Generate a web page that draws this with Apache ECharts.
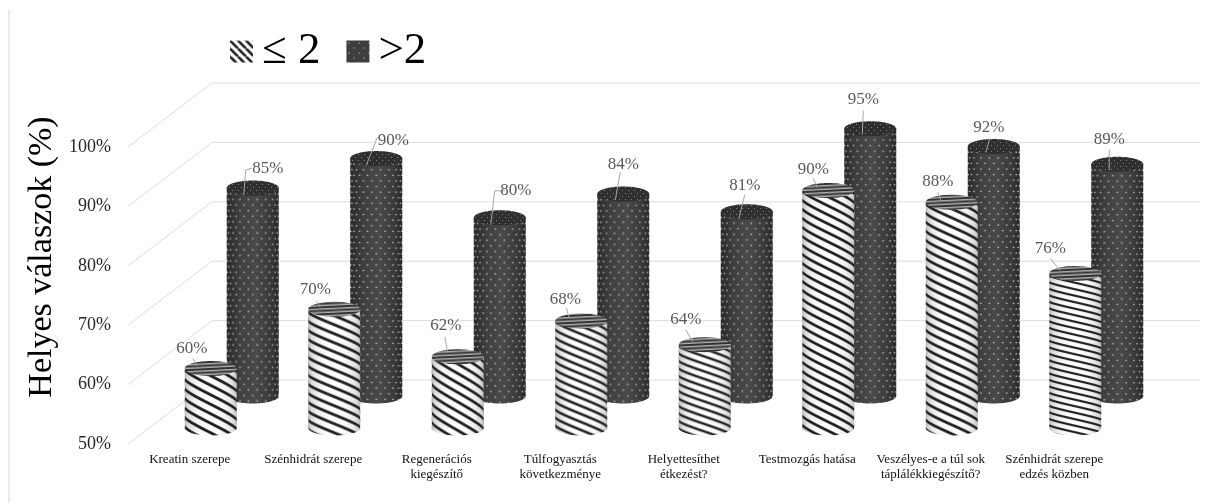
<!DOCTYPE html>
<html lang="hu">
<head>
<meta charset="utf-8">
<title>Helyes válaszok</title>
<style>
  html, body { margin: 0; padding: 0; background: #fff; }
  #chart { width: 1208px; height: 503px; }
</style>
<script src="https://cdn.jsdelivr.net/npm/echarts@6/dist/echarts.min.js"></script>
</head>
<body>
<div id="chart"></div>
<script>
// Chart data
const categories = [
  'Kreatin szerepe',
  'Szénhidrát szerepe',
  'Regenerációs\nkiegészítő',
  'Túlfogyasztás\nkövetkezménye',
  'Helyettesíthet\nétkezést?',
  'Testmozgás hatása',
  'Veszélyes-e a túl sok\ntáplálékkiegészítő?',
  'Szénhidrát szerepe\nedzés közben'
];
const lowGroup = [60, 70, 62, 68, 64, 90, 88, 76];
const highGroup = [85, 90, 80, 84, 81, 95, 92, 89];
const yTicks = [50, 60, 70, 80, 90, 100];
const lowName = '≤ 2';
const highName = '>2';
const yTitle = 'Helyes válaszok (%)';

// Pseudo-3D layout: the walls recede by this vector, cylinders stand on two depth rows
const FONT = '"Liberation Serif", "Times New Roman", serif';
const DEPTH_X = 84, DEPTH_Y = 64;
const RADIUS = 26, RY = 7.5;

// Value callouts, relative to the centre of each cylinder's top: [labelDx, labelDy, leader points]
const lowCallouts = [
  [-19, -20, [[-18, -10], [-14, -3]]],
  [-19, -20, [[-18, -8], [-14, -2]]],
  [-12, -31, [[-13, -20], [-10, -4]]],
  [-16, -22, [[-15, -13], [-12, -3]]],
  [-19, -25, [[-19, -15], [-12, -3]]],
  [-15, -21, [[-15, -12], [-11, -3]]],
  [-14, -21, [[-14, -10], [-11, -2]]],
  [-25, -25, [[-25, -15], [-15, -3]]]
];
const highCallouts = [
  [15, -20, [[-1, -20], [-7, -18], [-9, 7]]],
  [17, -18, [[1, -21], [-10, 7]]],
  [16, -27, [[5, -27], [-5, -27], [-9, 7]]],
  [0, -30, [[-3, -22], [-8, 6]]],
  [-2, -26, [[-2, -17], [-8, 7]]],
  [-7, -29, [[-7, -18], [-8, 6]]],
  [-5, -19, [[-4, -8], [-8, 6]]],
  [-8, -25, [[-8, -15], [-8, 6]]]
];

// Stripe look of each light cylinder: [vertical period, slope]
const stripeLook = [
  [9.5, 0.62], [9, 0.5], [9.5, 0.7], [8, 0.5],
  [7.5, 0.42], [9, 0.6], [9, 0.55], [6.5, 0.28]
];

function newCanvas(w, h) {
  const c = document.createElement('canvas');
  c.width = w; c.height = h;
  return c;
}

// Striped cylinder wall: stripes bend with the curvature, edges fall off to grey
function stripedWall(w, h, period, slope) {
  const c = newCanvas(w, h), ctx = c.getContext('2d');
  const img = ctx.createImageData(w, h);
  for (let x = 0; x < w; x++) {
    const t = Math.max(-1, Math.min(1, (x + 0.5 - w / 2) / (w / 2)));
    const warp = 0.5 * t + 0.5 * Math.asin(t) / (Math.PI / 2);
    const offset = slope * (w / 2) * warp;
    const light = 255 * (0.58 + 0.42 * Math.pow(1 - t * t, 0.3));
    for (let y = 0; y < h; y++) {
      let p = (y - offset) / period;
      p -= Math.floor(p);
      const d = Math.abs(p - 0.5) * period;
      const band = Math.max(0, Math.min(1, period * 0.17 - d + 0.5));
      const v = light * (1 - band) + 30 * band;
      const k = (y * w + x) * 4;
      img.data[k] = img.data[k + 1] = img.data[k + 2] = v;
      img.data[k + 3] = 255;
    }
  }
  ctx.putImageData(img, 0, 0);
  return c;
}

// Dark cylinder wall: soft horizontal shading with staggered dots that crowd at the edges
function dottedWall(w, h) {
  const c = newCanvas(w, h), ctx = c.getContext('2d');
  const g = ctx.createLinearGradient(0, 0, w, 0);
  g.addColorStop(0, '#2a2a2a');
  g.addColorStop(0.25, '#404040');
  g.addColorStop(0.55, '#4a4a4a');
  g.addColorStop(0.85, '#3a3a3a');
  g.addColorStop(1, '#282828');
  ctx.fillStyle = g;
  ctx.fillRect(0, 0, w, h);
  ctx.fillStyle = 'rgba(240,240,240,0.85)';
  const step = 9 / (w / 2);
  let row = 0;
  for (let y = 2; y < h; y += 5.6, row++) {
    for (let n = -4; n <= 4; n++) {
      const a = (n + (row % 2 ? 0.5 : 0)) * step;
      if (Math.abs(a) > 1.45) continue;
      ctx.fillRect(w / 2 + Math.sin(a) * w / 2 - 0.65, y - 0.65, 1.3, 1.3);
    }
  }
  return c;
}

function topStripes() {
  const c = newCanvas(10, 7), ctx = c.getContext('2d');
  ctx.fillStyle = '#aeaeae';
  ctx.fillRect(0, 0, 10, 7);
  ctx.fillStyle = '#333333';
  ctx.fillRect(0, 0, 10, 2);
  ctx.fillRect(0, 3.5, 10, 2);
  return c;
}

function topDots() {
  const c = newCanvas(6, 6), ctx = c.getContext('2d');
  ctx.fillStyle = '#2f2f2f';
  ctx.fillRect(0, 0, 6, 6);
  ctx.fillStyle = '#808080';
  ctx.fillRect(1, 1, 1, 1);
  ctx.fillRect(4, 4, 1, 1);
  return c;
}

function hatchSwatch() {
  const c = newCanvas(8, 8), ctx = c.getContext('2d');
  ctx.fillStyle = '#fff';
  ctx.fillRect(0, 0, 8, 8);
  ctx.strokeStyle = '#1e1e1e';
  ctx.lineWidth = 2.6;
  [[-8, 0], [0, 0], [8, 0]].forEach(function (o) {
    ctx.beginPath();
    ctx.moveTo(o[0], 0);
    ctx.lineTo(o[0] + 8, 8);
    ctx.stroke();
  });
  return c;
}

function dotSwatch() {
  const c = newCanvas(10, 10), ctx = c.getContext('2d');
  ctx.fillStyle = '#3e3e3e';
  ctx.fillRect(0, 0, 10, 10);
  ctx.fillStyle = '#e0e0e0';
  ctx.fillRect(2, 2, 1, 1);
  ctx.fillRect(7, 7, 1, 1);
  return c;
}

const topStripeImage = topStripes();
const topDotImage = topDots();

const wallCache = {};
function wallFor(kind, index, w, h) {
  const key = kind + index + '_' + h;
  if (!wallCache[key]) {
    wallCache[key] = kind === 'low'
      ? stripedWall(w, h, stripeLook[index][0], stripeLook[index][1])
      : dottedWall(w, h);
  }
  return wallCache[key];
}

// Draws one cylinder with its value callout, placed from the value axis and category axis
function cylinderRenderer(kind, depthRow, callouts) {
  return function (params, api) {
    const index = api.value(0);
    const value = api.value(1);
    const base = api.coord([index, yTicks[0]]);
    const top = api.coord([index, value]);
    const dx = DEPTH_X * depthRow, dy = DEPTH_Y * depthRow;
    const cx = base[0] + dx;
    const baseY = base[1] - dy;
    const topY = top[1] - dy;

    const wall = [[cx - RADIUS, topY]];
    for (let i = 0; i <= 48; i++) {
      const a = Math.PI - (i / 48) * Math.PI;
      wall.push([cx + Math.cos(a) * RADIUS, baseY + Math.sin(a) * RY]);
    }
    wall.push([cx + RADIUS, topY]);

    const texW = RADIUS * 2;
    const texH = Math.ceil(baseY - topY + RY * 2 + 4);
    const callout = callouts[index];
    const leader = callout[2].map(function (p) { return [cx + p[0], topY + p[1]]; });

    return {
      type: 'group',
      children: [
        {
          type: 'polygon',
          shape: { points: wall },
          style: {
            fill: {
              image: wallFor(kind, index, texW, texH),
              repeat: 'repeat',
              x: cx - RADIUS,
              y: topY - RY
            }
          }
        },
        {
          type: 'ellipse',
          shape: { cx: cx, cy: topY, rx: RADIUS, ry: RY },
          style: {
            fill: {
              image: kind === 'low' ? topStripeImage : topDotImage,
              repeat: 'repeat',
              rotation: kind === 'low' ? -0.05 : 0
            }
          }
        },
        {
          type: 'polyline',
          shape: { points: leader },
          style: { fill: null, stroke: '#a6a6a6', lineWidth: 1 }
        },
        {
          type: 'text',
          style: {
            x: cx + callout[0],
            y: topY + callout[1],
            text: value + '%',
            fill: '#595959',
            font: '17px ' + FONT,
            align: 'center',
            verticalAlign: 'middle'
          }
        }
      ]
    };
  };
}

// Floor and back-wall guide lines for each tick
function guideRenderer(params, api) {
  const y = api.coord([0, api.value(1)])[1];
  const left = params.coordSys.x;
  const right = left + params.coordSys.width;
  return {
    type: 'polyline',
    shape: {
      points: [
        [left, y],
        [left + DEPTH_X, y - DEPTH_Y],
        [right + DEPTH_X, y - DEPTH_Y]
      ]
    },
    style: { fill: null, stroke: '#dedede', lineWidth: 1 }
  };
}

const chart = echarts.init(document.getElementById('chart'), null, { renderer: 'canvas' });

chart.setOption({
  animation: false,
  backgroundColor: '#ffffff',
  grid: { left: 128, top: 147, width: 988, height: 297, containLabel: false },
  legend: {
    left: 225,
    top: 24,
    orient: 'horizontal',
    itemWidth: 23,
    itemHeight: 22,
    itemGap: 26,
    selectedMode: false,
    textStyle: {
      fontFamily: FONT,
      fontSize: 45,
      color: '#000000',
      padding: [0, 0, 0, 4]
    },
    data: [
      { name: lowName, icon: 'rect', itemStyle: { color: { image: hatchSwatch(), repeat: 'repeat' } } },
      { name: highName, icon: 'rect', itemStyle: { color: { image: dotSwatch(), repeat: 'repeat' } } }
    ]
  },
  xAxis: {
    type: 'category',
    data: categories,
    axisLine: { show: false },
    axisTick: { show: false },
    splitLine: { show: false },
    axisLabel: {
      interval: 0,
      margin: 8,
      fontFamily: FONT,
      fontSize: 13,
      lineHeight: 15,
      color: '#111111'
    }
  },
  yAxis: {
    type: 'value',
    min: 50,
    max: 100,
    interval: 10,
    axisLine: { show: false },
    axisTick: { show: false },
    splitLine: { show: false },
    axisLabel: {
      margin: 17,
      formatter: '{value}%',
      fontFamily: FONT,
      fontSize: 18,
      color: '#262626'
    }
  },
  graphic: [
    {
      type: 'rect',
      shape: { x: 8, y: 10, width: 2, height: 493 },
      style: { fill: '#ebebeb' },
      silent: true
    },
    {
      type: 'text',
      x: 42,
      y: 257,
      rotation: Math.PI / 2,
      style: {
        text: yTitle,
        fill: '#000000',
        font: '34px ' + FONT,
        align: 'center',
        verticalAlign: 'middle'
      }
    }
  ],
  series: [
    {
      name: 'guides',
      type: 'custom',
      z: 1,
      silent: true,
      renderItem: guideRenderer,
      encode: { x: 0, y: 1 },
      data: yTicks.map(function (t) { return [0, t]; })
    },
    {
      name: highName,
      type: 'custom',
      z: 2,
      renderItem: cylinderRenderer('high', 0.75, highCallouts),
      encode: { x: 0, y: 1 },
      data: highGroup.map(function (v, i) { return [i, v]; })
    },
    {
      name: lowName,
      type: 'custom',
      z: 3,
      renderItem: cylinderRenderer('low', 0.25, lowCallouts),
      encode: { x: 0, y: 1 },
      data: lowGroup.map(function (v, i) { return [i, v]; })
    }
  ]
});
</script>
</body>
</html>
